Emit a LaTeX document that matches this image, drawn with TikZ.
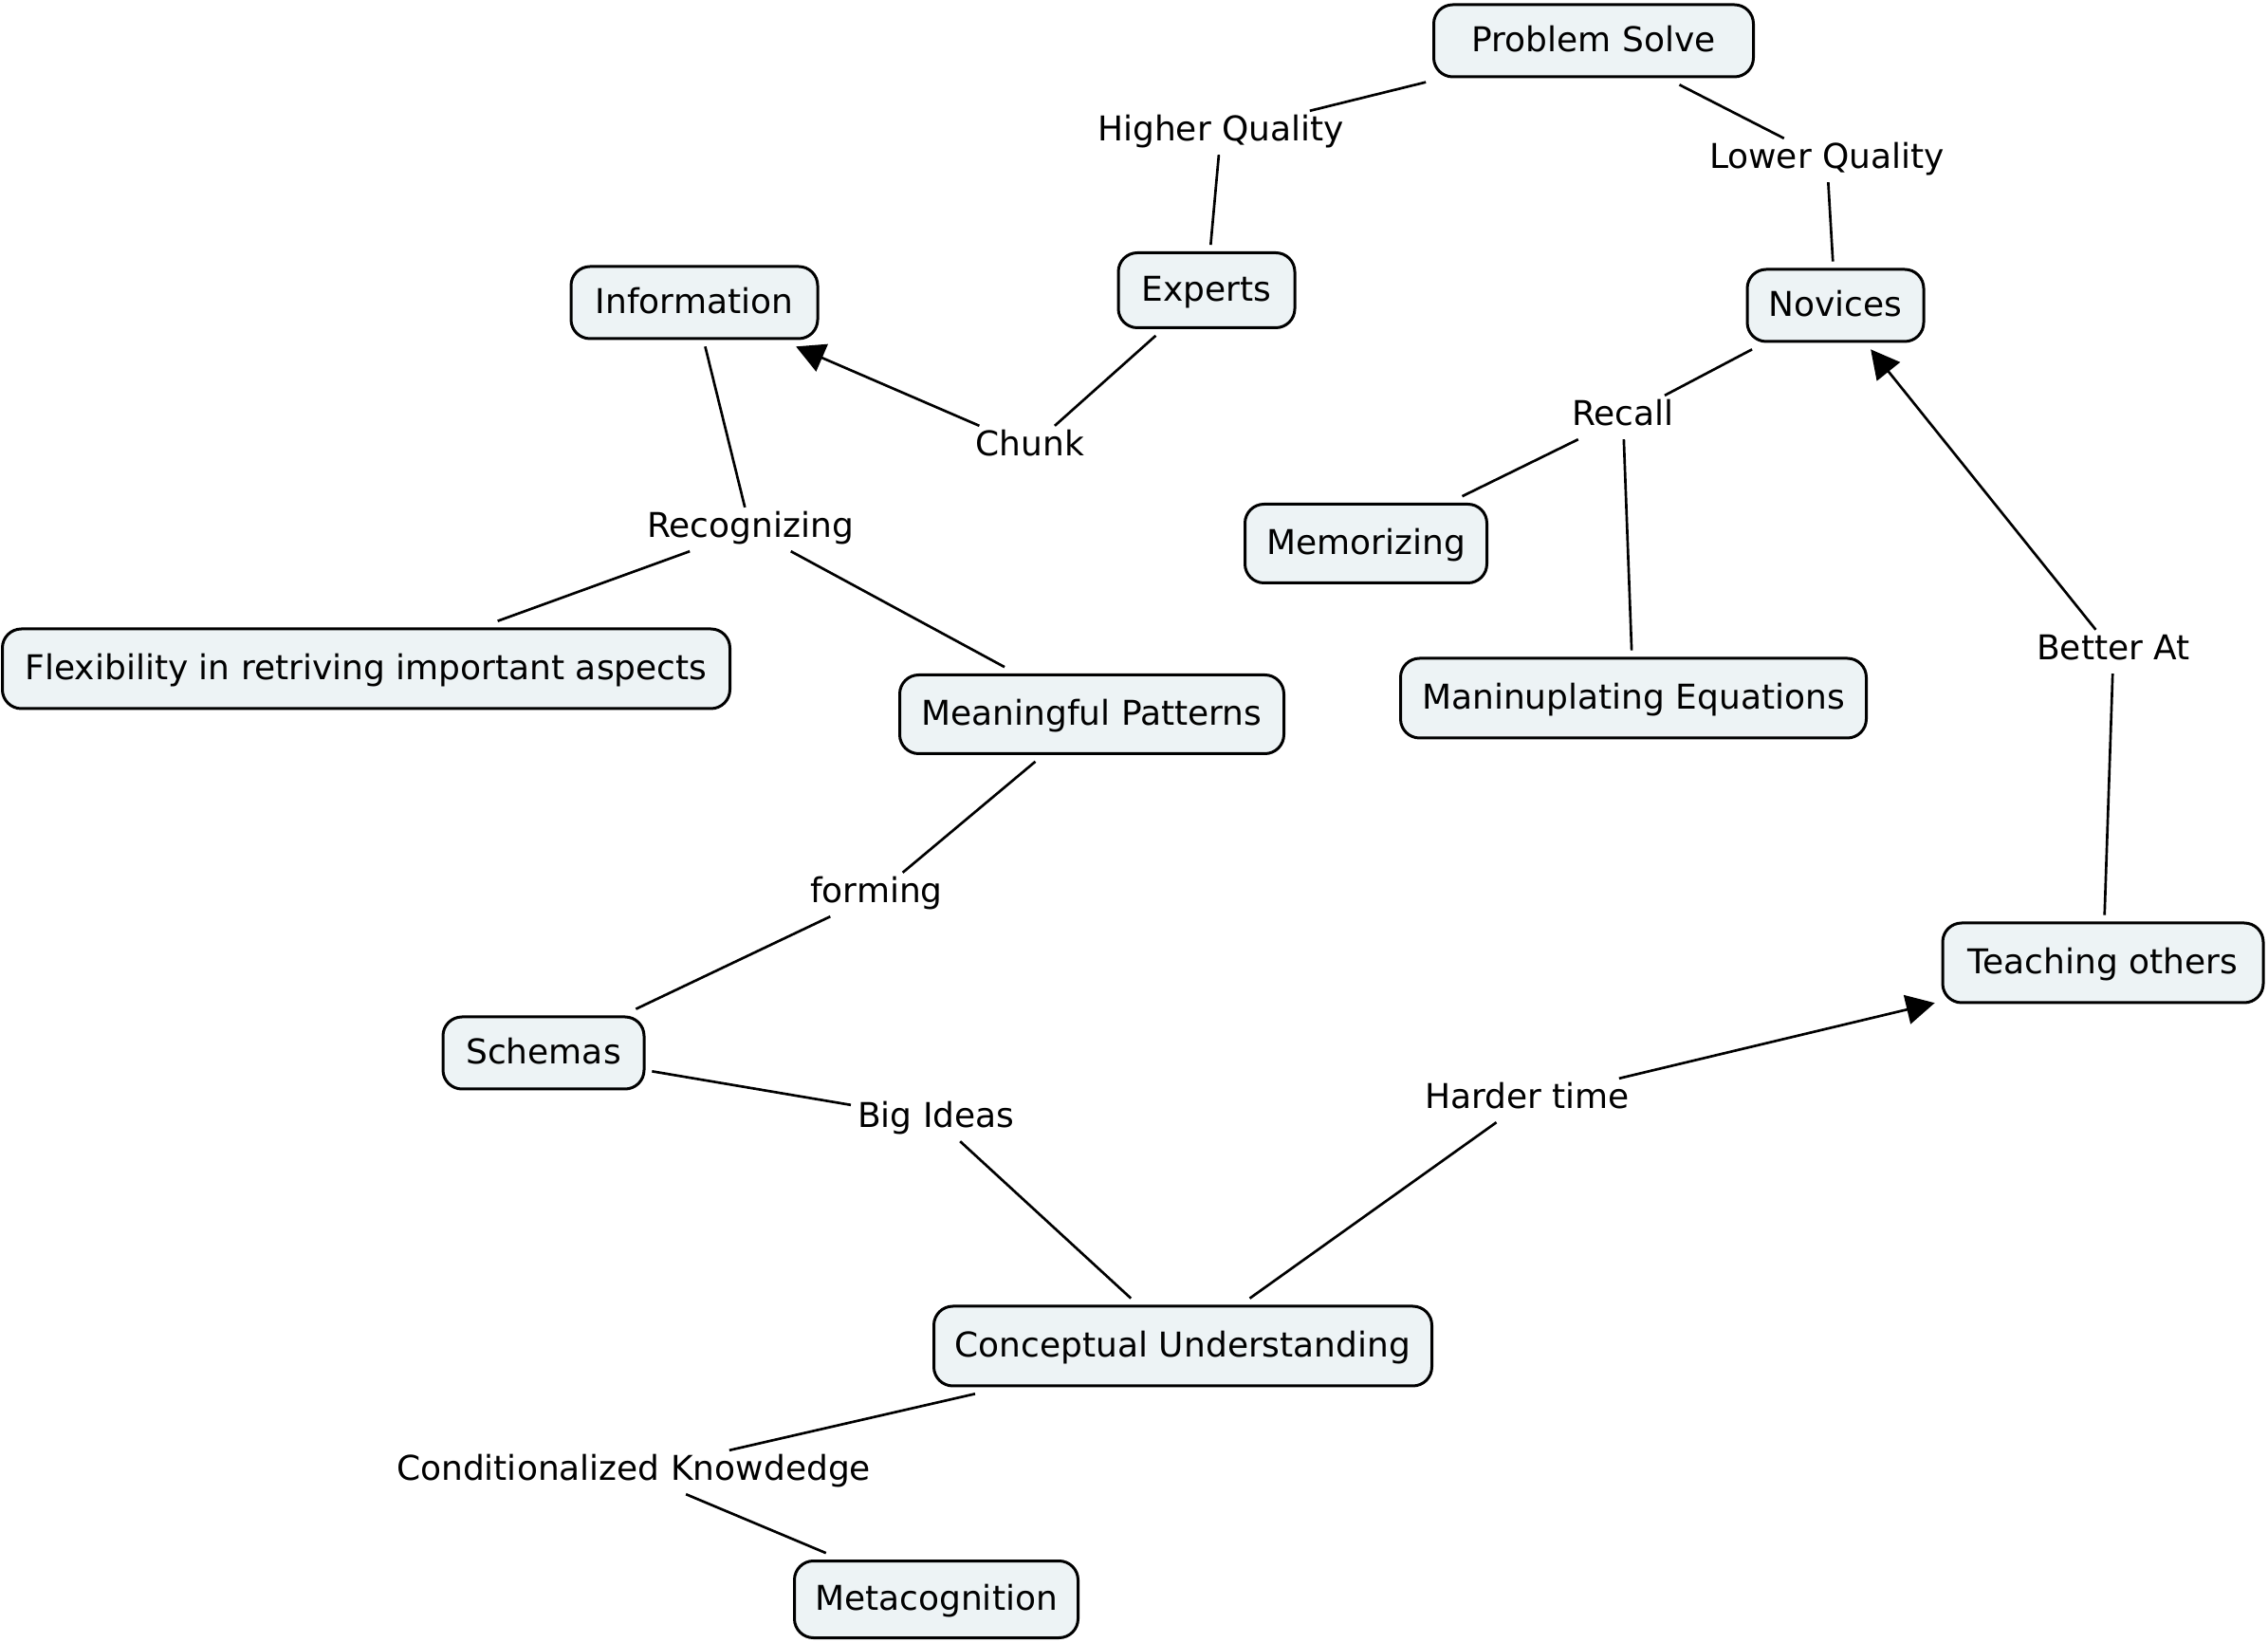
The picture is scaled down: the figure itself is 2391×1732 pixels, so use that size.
\documentclass[tikz,border=0pt]{standalone}
\usepackage{fontspec}
\setmainfont{DejaVu Sans}
\usetikzlibrary{arrows.meta}
\definecolor{boxfill}{RGB}{237,243,245}
\tikzset{
  box/.style={draw=black, line width=0.9pt, fill=boxfill, rounded corners=6pt,
    inner sep=0pt, outer sep=2.5pt, text height=0.73em, text depth=0.05em,
    font=\fontsize{10.8pt}{13pt}\selectfont},
  lbl/.style={inner sep=2pt, text height=0.73em, text depth=0.22em,
    font=\fontsize{10.8pt}{13pt}\selectfont},
  conn/.style={line width=0.8pt, black},
  arr/.style={conn, -{Triangle[length=9pt,width=9.3pt]}}
}
\begin{document}
\begin{tikzpicture}[x=0.3pt,y=-0.3pt]
\useasboundingbox (0,0) rectangle (2391,1732);
% concept boxes
\node[box, minimum width=101.1pt, minimum height=22.8pt] (ps) at (1680,43) {Problem Solve};
\node[box, minimum width=55.8pt, minimum height=23.7pt] (ex) at (1272,306) {Experts};
\node[box, minimum width=78pt, minimum height=22.8pt] (info) at (732,319) {Information};
\node[box, minimum width=55.8pt, minimum height=22.8pt] (nov) at (1935,322) {Novices};
\node[box, minimum width=76.5pt, minimum height=24.9pt] (mem) at (1440,573) {Memorizing};
\node[box, minimum width=147.3pt, minimum height=25.2pt] (man) at (1722,736) {Maninuplating Equations};
\node[box, minimum width=230.1pt, minimum height=25.2pt] (flex) at (386,705) {Flexibility in retriving important aspects};
\node[box, minimum width=121.5pt, minimum height=24.9pt] (mp) at (1151,753) {Meaningful Patterns};
\node[box, minimum width=101.4pt, minimum height=25.2pt] (teach) at (2217,1015) {Teaching others};
\node[box, minimum width=63.6pt, minimum height=22.8pt] (sch) at (573,1110) {Schemas};
\node[box, minimum width=157.5pt, minimum height=25.2pt] (cu) at (1247,1419) {Conceptual Understanding};
\node[box, minimum width=89.7pt, minimum height=24.3pt] (meta) at (987,1686) {Metacognition};
% linking phrases
\node[lbl] (hq) at (1287,140) {Higher Quality};
\node[lbl] (lq) at (1926,169) {Lower Quality};
\node[lbl] (chunk) at (1086,472) {Chunk};
\node[lbl] (recall) at (1711,440) {Recall};
\node[lbl] (recog) at (791,558) {Recognizing};
\node[lbl] (better) at (2228,687) {Better At};
\node[lbl] (forming) at (924,943) {forming};
\node[lbl] (big) at (987,1180) {Big Ideas};
\node[lbl] (harder) at (1610,1160) {Harder time};
\node[lbl] (cond) at (668,1552) {Conditionalized Knowdedge};
% connectors
\draw[conn] (ps) -- (hq);
\draw[conn] (hq) -- (ex);
\draw[conn] (ps) -- (lq);
\draw[conn] (lq) -- (nov);
\draw[conn] (ex) -- (chunk);
\draw[arr] (chunk) -- (info);
\draw[conn] (nov) -- (recall);
\draw[conn] (recall) -- (mem);
\draw[conn] (recall) -- (man);
\draw[conn] (info) -- (recog);
\draw[conn] (recog) -- (flex);
\draw[conn] (recog) -- (mp);
\draw[conn] (mp) -- (forming);
\draw[conn] (forming) -- (sch);
\draw[conn] (sch) -- (big);
\draw[conn] (big) -- (cu);
\draw[conn] (cu) -- (harder);
\draw[arr] (harder) -- (teach);
\draw[conn] (teach) -- (better);
\draw[arr] (better) -- (nov);
\draw[conn] (cu) -- (cond);
\draw[conn] (cond) -- (meta);
\end{tikzpicture}
\end{document}
